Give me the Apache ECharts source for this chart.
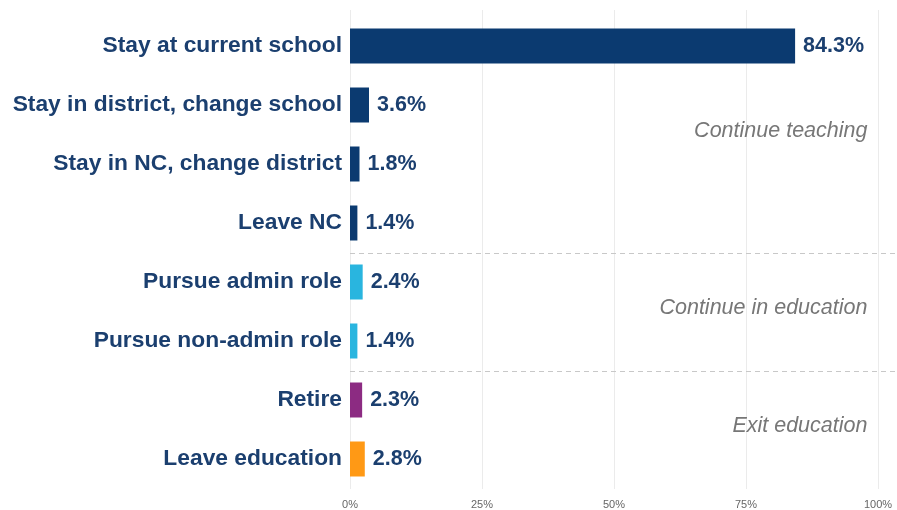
<!DOCTYPE html>
<html>
<head>
<meta charset="utf-8">
<script src="https://cdn.jsdelivr.net/npm/echarts@6/dist/echarts.min.js"></script>
<style>
  html, body { margin: 0; padding: 0; background: #fff; }
  #main { width: 897px; height: 510px; }
</style>
</head>
<body>
<div id="main"></div>
<script>
const categories = [
  'Stay at current school',
  'Stay in district, change school',
  'Stay in NC, change district',
  'Leave NC',
  'Pursue admin role',
  'Pursue non-admin role',
  'Retire',
  'Leave education'
]
const values = [84.3, 3.6, 1.8, 1.4, 2.4, 1.4, 2.3, 2.8]
const groups = ['teach', 'teach', 'teach', 'teach', 'edu', 'edu', 'exit', 'exit']
const xTicks = [0, 25, 50, 75, 100]

const groupColors = { teach: '#0b3a70', edu: '#29b5df', exit: '#8c2b82' }
const lastColor = '#ff9915'
const navy = '#1b3f6f'

const chart = echarts.init(document.getElementById('main'))

chart.setOption({
  animation: false,
  grid: [
    // panel for gridlines (ggplot-style expanded panel)
    { left: 350, right: 19, top: 10, bottom: 16 },
    // bars
    { left: 350, right: 19, top: 16.5, bottom: 21.5 }
  ],
  xAxis: [{
    gridIndex: 0,
    type: 'value',
    min: xTicks[0],
    max: xTicks[xTicks.length - 1],
    interval: 25,
    axisLine: { show: false },
    axisTick: { show: false },
    splitLine: { show: true, lineStyle: { color: '#ebebeb', width: 1 } },
    axisLabel: {
      formatter: v => v + '%',
      color: '#666',
      fontSize: 11,
      fontFamily: 'Liberation Sans',
      margin: 10
    }
  }, {
    gridIndex: 1,
    type: 'value',
    min: 0,
    max: 100,
    show: false
  }],
  yAxis: [{
    gridIndex: 0,
    type: 'value',
    show: false
  }, {
    gridIndex: 1,
    type: 'category',
    inverse: true,
    data: categories,
    axisLine: { show: false },
    axisTick: { show: false },
    splitLine: { show: false },
    axisLabel: {
      color: navy,
      fontSize: 22.8,
      fontWeight: 'bold',
      fontFamily: 'Liberation Sans',
      margin: 8
    }
  }],
  series: [{
    type: 'bar',
    xAxisIndex: 1,
    yAxisIndex: 1,
    barWidth: 35,
    data: values.map((v, i) => ({
      value: v,
      itemStyle: { color: i === values.length - 1 ? lastColor : groupColors[groups[i]] }
    })),
    label: {
      show: true,
      position: 'right',
      distance: 8,
      formatter: p => p.value.toFixed(1) + '%',
      color: navy,
      fontSize: 21.5,
      fontWeight: 'bold',
      fontFamily: 'Liberation Sans'
    }
  }]
})

// group separators and group labels, placed from the category axis
const yPix = i => chart.convertToPixel({ xAxisIndex: 1, yAxisIndex: 1 }, [0, i])[1]
const x0 = chart.convertToPixel({ xAxisIndex: 1, yAxisIndex: 1 }, [0, 0])[0]
const xLabel = chart.convertToPixel({ xAxisIndex: 1, yAxisIndex: 1 }, [98, 0])[0]

const separators = [3, 5] // dashed line after these category indices
const groupLabels = [
  { text: 'Continue teaching', from: 0, to: 3 },
  { text: 'Continue in education', from: 4, to: 5 },
  { text: 'Exit education', from: 6, to: 7 }
]

const graphics = []
separators.forEach(i => {
  const y = Math.round((yPix(i) + yPix(i + 1)) / 2) + 0.5
  graphics.push({
    type: 'line',
    shape: { x1: x0, y1: y, x2: 897, y2: y },
    style: { stroke: '#c8c8c8', lineWidth: 1, lineDash: [5, 4] },
    silent: true
  })
})
groupLabels.forEach(g => {
  const yc = g.from === 0 ? (yPix(1) + yPix(2)) / 2 : (yPix(g.from) + yPix(g.to)) / 2
  graphics.push({
    type: 'text',
    x: xLabel,
    y: yc - 3,
    style: {
      text: g.text,
      fill: '#777',
      font: 'italic 21.5px "Liberation Sans"',
      align: 'right',
      verticalAlign: 'middle'
    },
    silent: true
  })
})
chart.setOption({ graphic: graphics })
</script>
</body>
</html>
